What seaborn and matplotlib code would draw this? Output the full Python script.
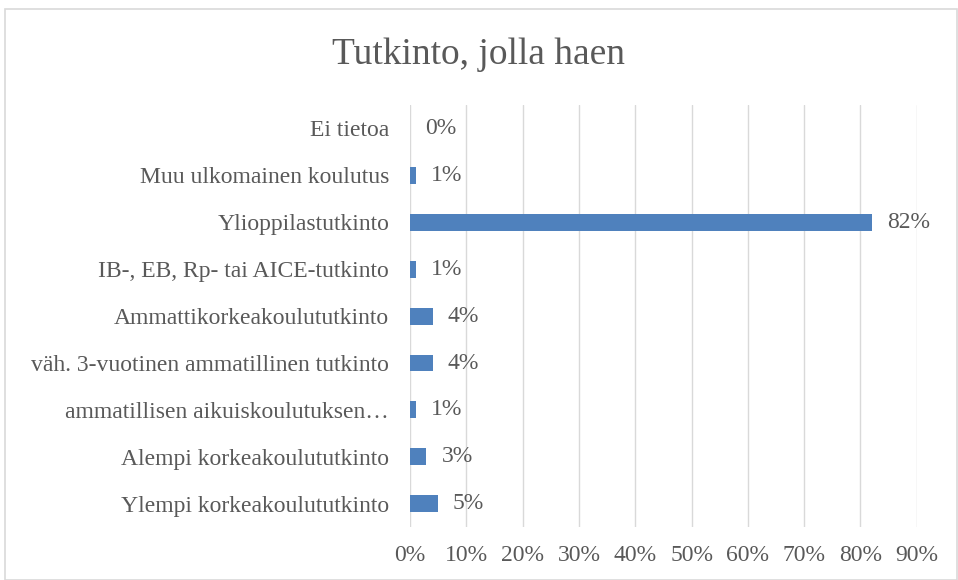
import matplotlib
matplotlib.use("Agg")
import matplotlib.pyplot as plt
import seaborn as sns
import pandas as pd
from matplotlib.patches import Rectangle

categories = [
    "Ei tietoa",
    "Muu ulkomainen koulutus",
    "Ylioppilastutkinto",
    "IB-, EB, Rp- tai AICE-tutkinto",
    "Ammattikorkeakoulututkinto",
    "väh. 3-vuotinen ammatillinen tutkinto",
    "ammatillisen aikuiskoulutuksen…",
    "Alempi korkeakoulututkinto",
    "Ylempi korkeakoulututkinto",
]
values = [0.0, 0.01, 0.821, 0.01, 0.04, 0.04, 0.01, 0.029, 0.049]
labels = ["0%", "1%", "82%", "1%", "4%", "4%", "1%", "3%", "5%"]
xticks = [0, 0.1, 0.2, 0.3, 0.4, 0.5, 0.6, 0.7, 0.8, 0.9]
xticklabels = ["0%", "10%", "20%", "30%", "40%", "50%", "60%", "70%", "80%", "90%"]

sns.set_theme(style="white")
plt.rcParams["font.family"] = ["Liberation Serif", "DejaVu Serif"]

TXT = "#595959"
df = pd.DataFrame({"cat": categories, "val": values})

fig = plt.figure(figsize=(9.58, 5.8), dpi=100)
fig.patches.append(Rectangle((0.005, 0.0), 0.994, 0.985, transform=fig.transFigure,
                             fill=False, edgecolor="#D9D9D9", linewidth=1.2))
ax = fig.add_axes([0.428, 0.091, 0.529, 0.728])
sns.barplot(data=df, x="val", y="cat", color="#4F81BD", saturation=1, width=0.36,
            ax=ax, orient="h", linewidth=0)
ax.set_xlim(0, 0.9)
ax.set_xticks(xticks)
ax.set_xticklabels(xticklabels)
ax.set_xlabel("")
ax.set_ylabel("")
for s in ax.spines.values():
    s.set_visible(False)
ax.grid(axis="x", color="#D9D9D9", linewidth=1.0)
ax.set_axisbelow(True)
ax.tick_params(axis="y", length=0, pad=15, labelsize=17, labelcolor=TXT)
ax.tick_params(axis="x", length=0, pad=13, labelsize=17, labelcolor=TXT)
for i, (v, lab) in enumerate(zip(values, labels)):
    ax.annotate(lab, (v, i), xytext=(11, 0), textcoords="offset points",
                ha="left", va="center", fontsize=17, color=TXT)
fig.text(0.5, 0.905, "Tutkinto, jolla haen", ha="center", va="center",
         fontsize=27, color=TXT)
fig.savefig("out.png", dpi=100)
